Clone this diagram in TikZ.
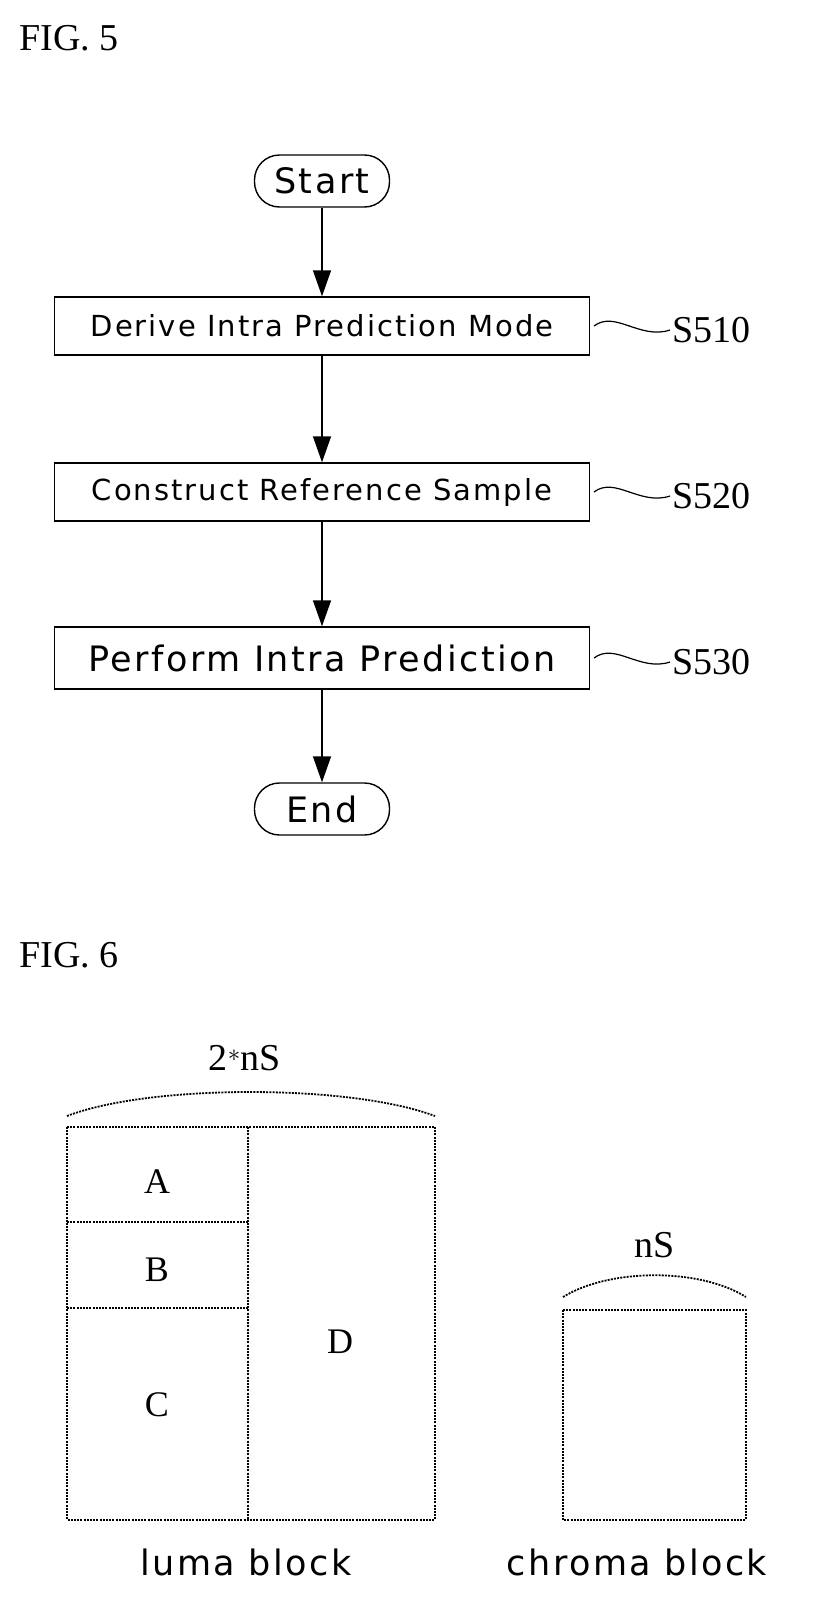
\documentclass[tikz,border=0pt]{standalone}
\usepackage{fontspec}
\setmainfont{Liberation Serif}
\newfontfamily\sansf[LetterSpace=7]{DejaVu Sans}
\usetikzlibrary{arrows.meta}
\begin{document}
\begin{tikzpicture}[x=1pt,y=-1pt,
  box/.style={draw,line width=1.4pt,minimum width=535pt,minimum height=58pt,inner sep=0pt,font=\sansf\fontsize{29}{32}\selectfont},
  term/.style={draw,line width=1.4pt,rounded corners=25pt,minimum width=135pt,minimum height=52pt,inner sep=0pt,font=\sansf\fontsize{35}{38}\selectfont},
  arr/.style={line width=1.4pt,-{Triangle[length=26pt,width=18pt]}},
  wave/.style={line width=1.2pt},
  dot/.style={line width=1.8pt,dash pattern=on 2pt off 1.2pt},
  fig/.style={font=\fontsize{38}{42}\selectfont},
  lbl/.style={font=\fontsize{38}{42}\selectfont},
  let/.style={font=\fontsize{36}{40}\selectfont},
  blk/.style={font=\sansf\fontsize{35}{38}\selectfont}]
\useasboundingbox (0,0) rectangle (817,1606);
\node[fig,anchor=west] (f5) at (16,38) {FIG. 5};
\node[term] (start) at (322,181) {Start};
\node[box] (b1) at (322,326) {Derive Intra Prediction Mode};
\node[box] (b2) at (322,492) {Construct Reference Sample};
\node[box,font=\sansf\fontsize{35}{38}\selectfont,minimum height=62pt] (b3) at (322,658) {Perform Intra Prediction};
\node[term] (end) at (322,809) {End};
\draw[arr] (start) -- (b1);
\draw[arr] (b1) -- (b2);
\draw[arr] (b2) -- (b3);
\draw[arr] (b3) -- (end);
\foreach \n/\y/\t in {l1/330/S510,l2/496/S520,l3/662/S530}{
  \node[lbl,anchor=west,inner sep=2pt] (\n) at (670,\y) {\t};
  \draw[wave] (594,\y-4) .. controls (615,\y-20) and (640,\y+10) .. (\n.west);
}
\node[fig,anchor=west] (f6) at (16,955) {FIG. 6};
% luma
\draw[dot] (67,1127) rectangle (435,1520);
\draw[dot] (248,1127) -- (248,1520);
\draw[dot] (67,1222) -- (248,1222);
\draw[dot] (67,1308) -- (248,1308);
\node[let] (A) at (157,1182) {A};
\node[let] (B) at (157,1270) {B};
\node[let] (C) at (157,1405) {C};
\node[let] (D) at (340,1342) {D};
\draw[dot] (67,1116) .. controls (150,1084) and (350,1084) .. (435,1116);
\node[lbl] (two) at (245,1058) {2$^{\ast}$nS};
\node[blk] (luma) at (246,1562) {luma block};
% chroma
\draw[dot] (563,1310) rectangle (746,1520);
\draw[dot] (563,1297) .. controls (610,1268) and (700,1268) .. (746,1297);
\node[lbl] (ns) at (655,1245) {nS};
\node[blk] (chroma) at (637,1562) {chroma block};
\end{tikzpicture}
\end{document}
